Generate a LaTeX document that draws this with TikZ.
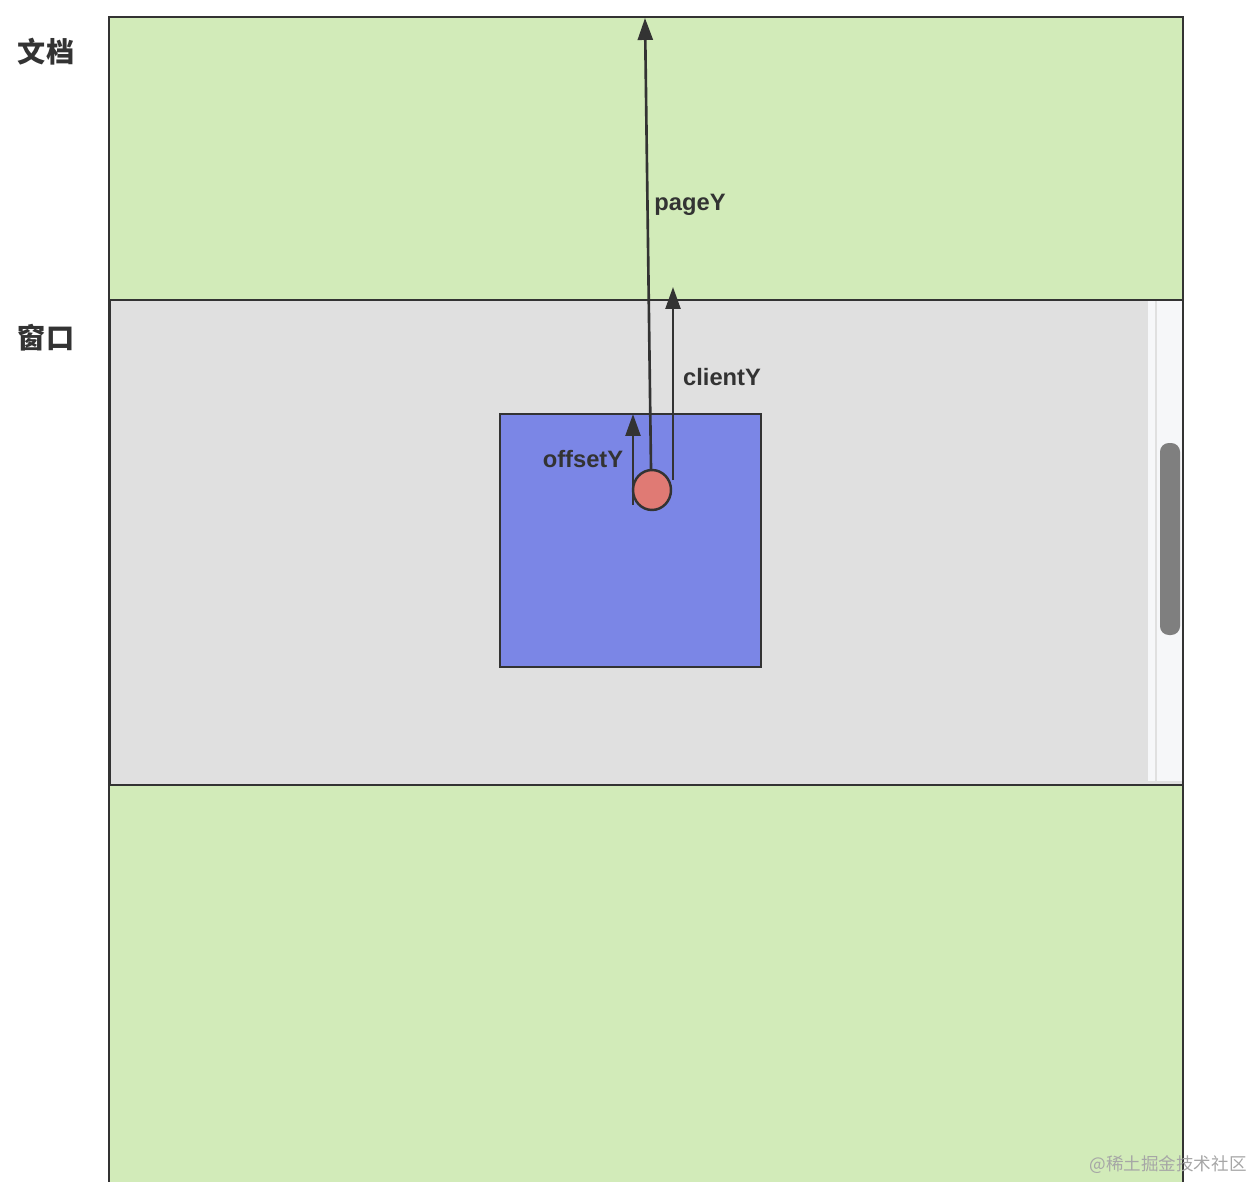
\documentclass[tikz,border=0pt]{standalone}
\usepackage{fontspec}
\setmainfont{Liberation Sans}
\newfontfamily\cjk{Noto Sans CJK SC}
\usepackage{tikz}
\usetikzlibrary{shapes}
\usetikzlibrary{positioning}
\usetikzlibrary{arrows.meta}
\usetikzlibrary{math}

\definecolor{docgreen}{HTML}{D2EBB9}
\definecolor{wingray}{HTML}{E0E0E0}
\definecolor{boxblue}{HTML}{7B86E6}
\definecolor{dotred}{HTML}{E07A74}
\definecolor{edge}{HTML}{333333}
\definecolor{track}{HTML}{F6F7F9}
\definecolor{thumb}{HTML}{7F7F7F}

\tikzset{
  frame/.style={draw=edge, line width=1.4pt},
  yarrow/.style={draw=edge, line width=1.5pt, -{Triangle[length=12.5pt,width=8.5pt]}},
  lbl/.style={font=\bfseries\fontsize{13.5}{15}\selectfont, text=edge},
  side/.style={font=\cjk\bfseries\fontsize{16}{18}\selectfont, text=edge}
}

\begin{document}
\begin{tikzpicture}[x=0.02cm, y=-0.02cm]
      \tikzmath{
        \L = 109;
        \R = 1183;
        \T = 17;
        \wT = 300;
        \wB = 785;
      }
      \useasboundingbox (0,0) rectangle (1254,1182);

      % document and window
      \fill[docgreen] (\L,\T) rectangle (\R,1190);
      \draw[frame] (\L,1190) -- (\L,\T) -- (\R,\T) -- (\R,1190);
      \filldraw[frame, fill=wingray] (\L+1,\wT) rectangle (\R,\wB);

      % scroll bar
      \fill[track] (1148,\wT+1) rectangle (\R-1,\wB-4);
      \draw[wingray, line width=0.6pt] (1156,\wT+1) -- (1156,\wB-4);
      \fill[thumb, rounded corners=5pt] (1160,443) rectangle (1180,635);
      \draw[frame] (\R,\T) -- (\R,1190);

      % target element
      \filldraw[frame, fill=boxblue] (500,414) rectangle (761,667);
      \node[ellipse, draw=edge, line width=1.4pt, fill=dotred,
            minimum width=0.76cm, minimum height=0.8cm, inner sep=0pt] (dot) at (652,490) {};

      \coordinate (pagetop) at (645,\T+1);
      \coordinate (clienttop) at (673,287);
      \coordinate (offsettop) at (633,414);

      \draw[yarrow] ([xshift=-0.02cm]dot.north) -- (pagetop);
      \draw[yarrow] (673,480) -- (clienttop);
      \draw[yarrow] (633,505) -- (offsettop);

      \node[lbl] (pagey) at (690,205) {pageY};
      \node[lbl] (clienty) at (722,377) {clientY};
      \node[lbl] (offsety) at (583,459) {offsetY};

      \node[side] (doc) at (46,52) {文档};
      \node[side] (win) at (46,338) {窗口};

      \node[font=\cjk\fontsize{10}{12}\selectfont, text=black!35] (mark) at (1168,1165) {@稀土掘金技术社区};
    \end{tikzpicture}
\end{document}
